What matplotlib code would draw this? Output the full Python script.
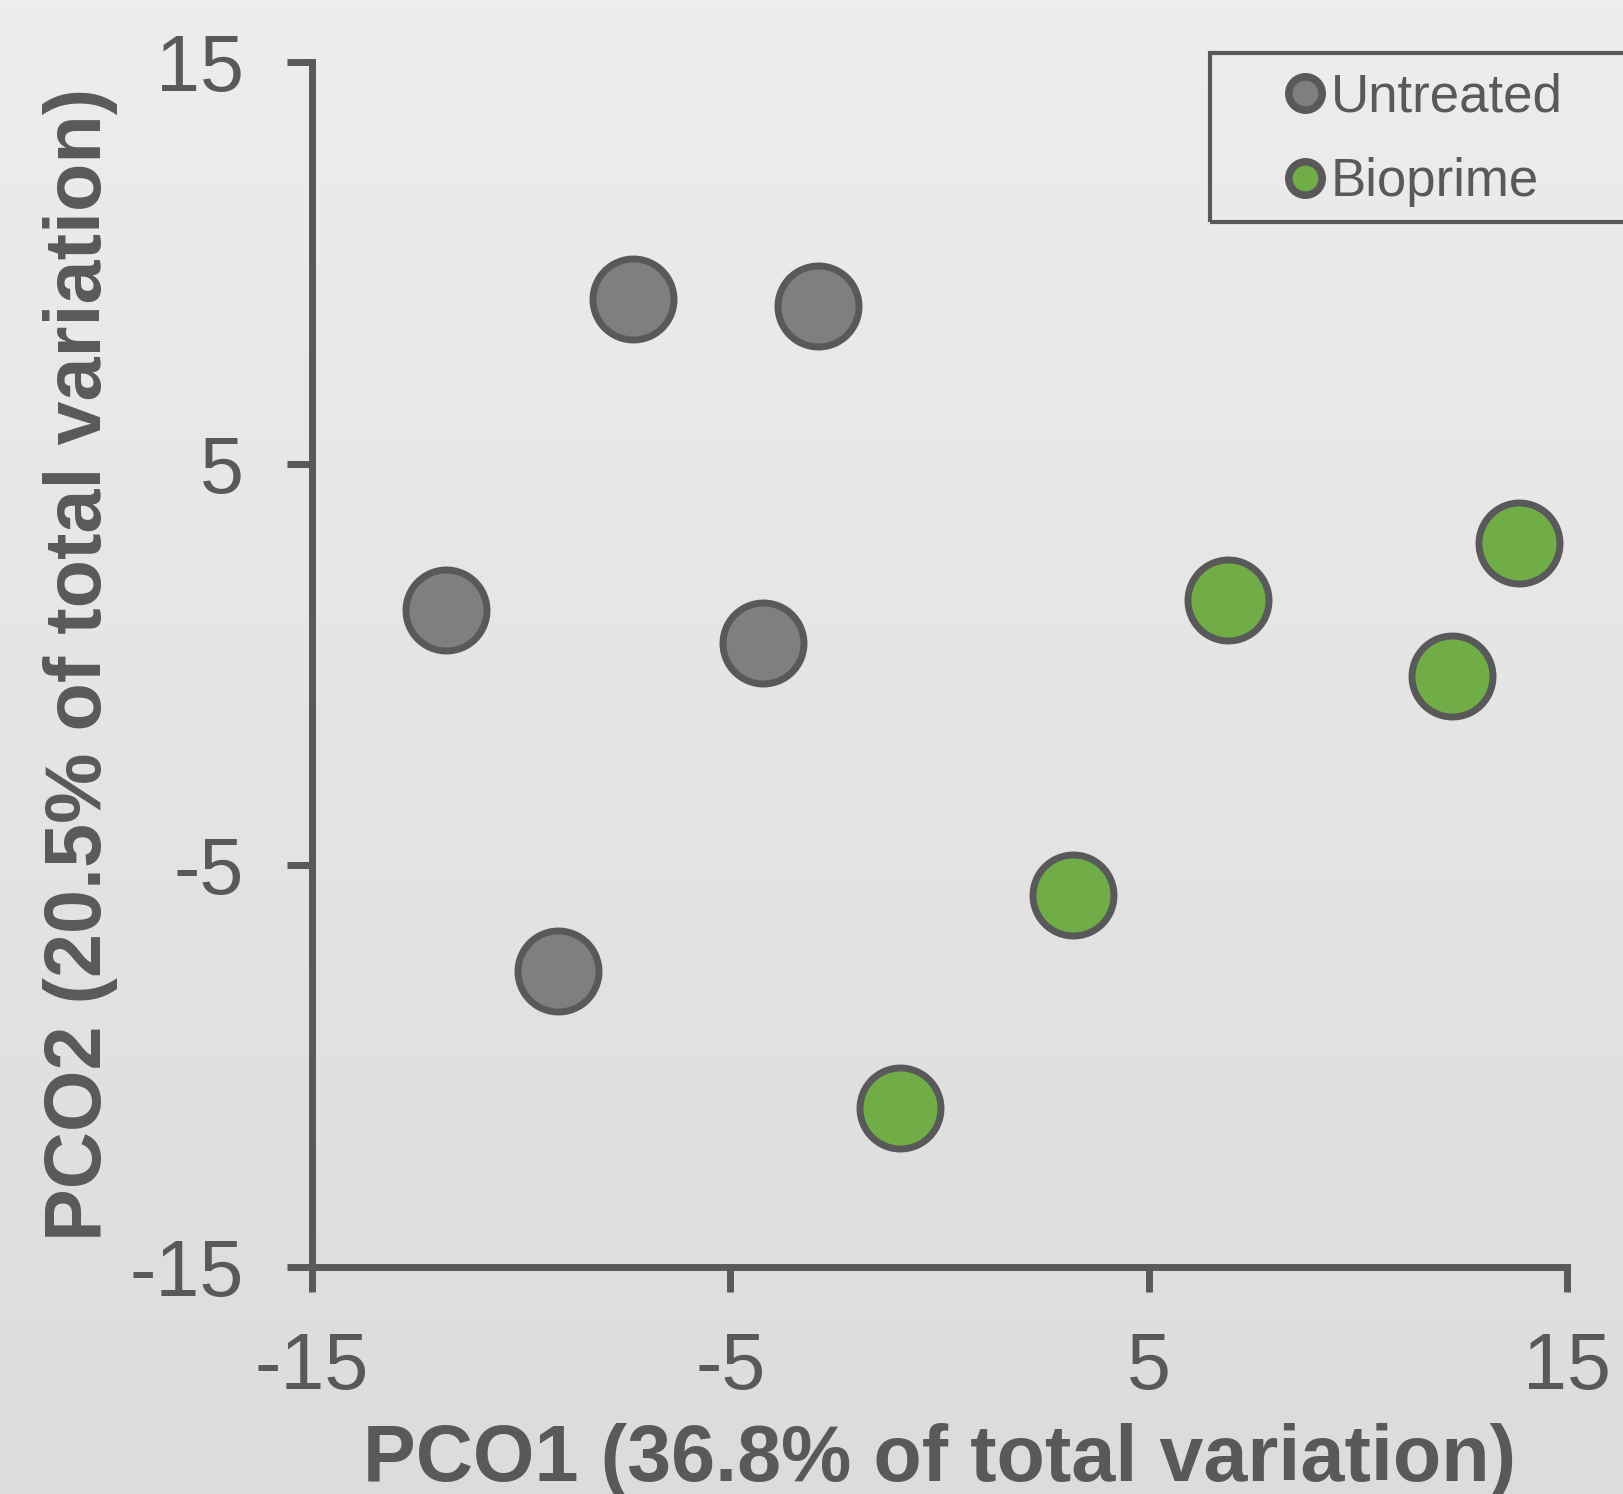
import numpy as np
import matplotlib.pyplot as plt
from matplotlib.patches import Rectangle
from matplotlib.lines import Line2D

untreated_x = [-7.33, -2.90, -11.79, -4.23, -9.11]
untreated_y = [9.09, 8.93, 1.37, 0.54, -7.64]
bioprime_x = [6.90, 13.86, 12.26, 3.19, -0.94]
bioprime_y = [1.60, 3.02, -0.28, -5.73, -11.05]
ticks = [-15, -5, 5, 15]
labels = ["Untreated", "Bioprime"]

dark = "#595959"
plt.rcParams['font.family'] = ['Liberation Sans', 'DejaVu Sans']
plt.rcParams['axes.unicode_minus'] = False

fig = plt.figure(figsize=(16.24, 14.94), dpi=100)

# background gradient
bg = fig.add_axes([0, 0, 1, 1], zorder=-10)
grad = np.linspace(237, 220, 256).reshape(-1, 1) / 255.0
bg.imshow(np.dstack([grad, grad, grad]), aspect='auto', extent=[0, 1, 0, 1])
bg.set_axis_off()

ax = fig.add_axes([0.1921, 0.1519, 0.7728, 0.8066])
ax.patch.set_alpha(0)

ax.scatter(untreated_x, untreated_y, s=3400, c="#7f7f7f", edgecolors=dark,
           linewidths=5, zorder=3, clip_on=False)
ax.scatter(bioprime_x, bioprime_y, s=3400, c="#70ad47", edgecolors=dark,
           linewidths=5, zorder=3, clip_on=False)

ax.set_xlim(-15, 15)
ax.set_ylim(-15, 15)
ax.set_xticks(ticks)
ax.set_yticks(ticks)
for s in ["top", "right"]:
    ax.spines[s].set_visible(False)
for s in ["left", "bottom"]:
    ax.spines[s].set_color(dark)
    ax.spines[s].set_linewidth(5)
ax.tick_params(direction='out', length=18, width=5, color=dark,
               labelcolor=dark, labelsize=57, pad=28)
ax.tick_params(axis='y', pad=31)

ax.set_xlabel("PCO1 (36.8% of total variation)", fontsize=57,
              fontweight='bold', color=dark, labelpad=12)
ax.set_ylabel("PCO2 (20.5% of total variation)", fontsize=57,
              fontweight='bold', color=dark, labelpad=8)

# legend frame runs off the right edge
fig.patches.append(Rectangle((1210 / 1624, 1 - 222 / 1494), 0.5, 169 / 1494,
                             transform=fig.transFigure, fill=False,
                             edgecolor=dark, linewidth=3, zorder=5))
handles = [
    Line2D([], [], ls='none', marker='o', ms=24, mew=5.5, mfc="#7f7f7f", mec=dark),
    Line2D([], [], ls='none', marker='o', ms=24, mew=5.5, mfc="#70ad47", mec=dark),
]
leg = fig.legend(handles, labels, loc='upper left',
                 bbox_to_anchor=(1236 / 1624, 1 - 36 / 1494), frameon=False,
                 fontsize=38, labelcolor=dark, handletextpad=-0.1,
                 handlelength=1.2, labelspacing=0.65, borderpad=0.2)

fig.savefig("out.png", dpi=100)
